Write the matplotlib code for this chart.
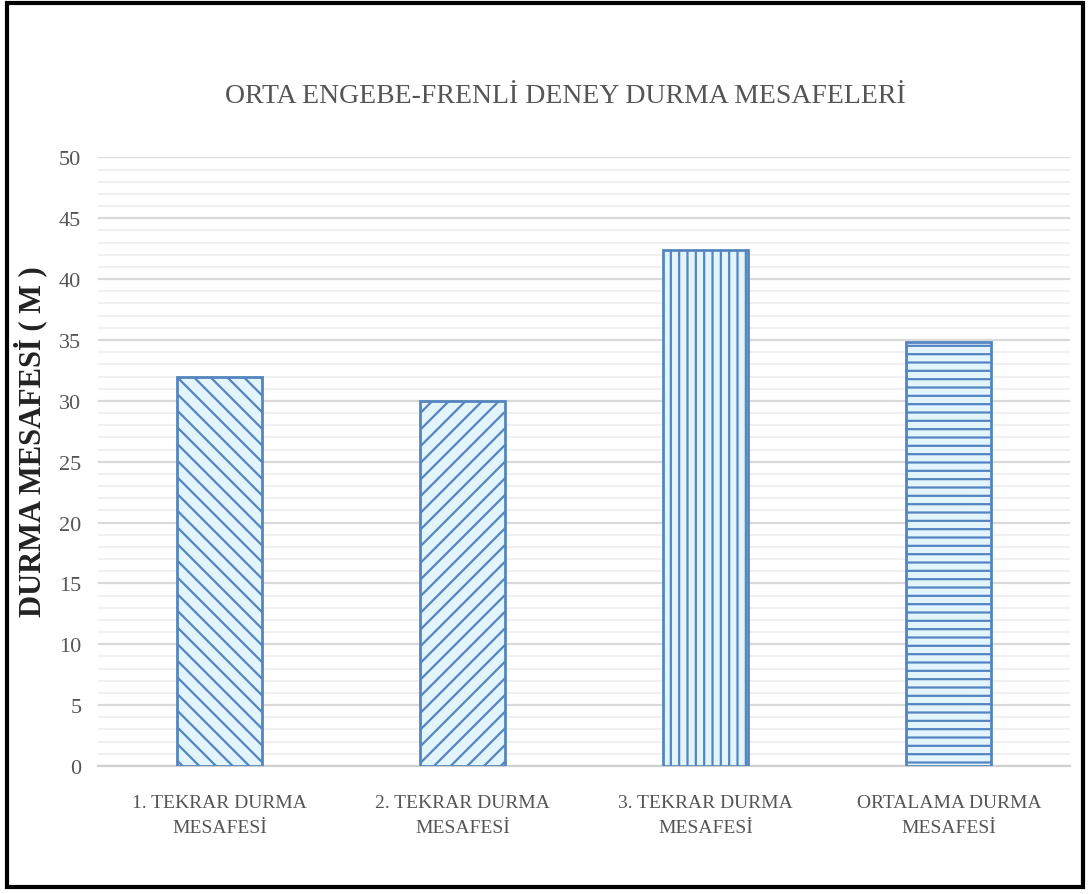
import matplotlib.pyplot as plt
from matplotlib.patches import Rectangle
from matplotlib.ticker import MultipleLocator

# veriler
categories = ['1. TEKRAR DURMA\nMESAFESİ', '2. TEKRAR DURMA\nMESAFESİ',
              '3. TEKRAR DURMA\nMESAFESİ', 'ORTALAMA DURMA\nMESAFESİ']
values = [32.0, 30.0, 42.4, 34.8]
hatches = ['\\\\', '//', '||', '--']

plt.rcParams['font.family'] = ['Liberation Serif', 'DejaVu Serif']
plt.rcParams['hatch.linewidth'] = 1.6

fig = plt.figure(figsize=(10.89, 8.95), dpi=100)
# dış çerçeve
fig.patches.append(Rectangle((7 / 1089, 7 / 895), 1076 / 1089, 884 / 895,
                             transform=fig.transFigure, fill=False,
                             edgecolor='black', linewidth=3))
ax = fig.add_axes([0.09, 0.143, 0.893, 0.68])

for i, (v, h) in enumerate(zip(values, hatches)):
    ax.bar(i, v, width=0.35, color='#e3f5fc', edgecolor='#5585c0',
           hatch=h, linewidth=2, zorder=3)

ax.set_xlim(-0.5, 3.5)
ax.set_ylim(0, 50)
ax.yaxis.set_major_locator(MultipleLocator(5))
ax.yaxis.set_minor_locator(MultipleLocator(1))
ax.grid(axis='y', which='major', color='#d9d9d9', linewidth=1.6, zorder=0)
ax.grid(axis='y', which='minor', color='#eeeeee', linewidth=1.2, zorder=0)
ax.set_axisbelow(True)

for s in ['top', 'right', 'left']:
    ax.spines[s].set_visible(False)
ax.spines['bottom'].set_color('#d0d0d0')
ax.spines['bottom'].set_linewidth(1.6)

ax.set_xticks(range(len(categories)))
ax.set_xticklabels(categories, fontsize=14, color='#555555', linespacing=1.6)
ax.tick_params(axis='x', length=0, pad=20)
ax.tick_params(axis='y', which='both', length=0, labelsize=16,
               labelcolor='#555555', pad=12)

ax.set_ylabel('DURMA MESAFESİ ( M )', fontsize=22, fontweight='bold',
              color='#222222')
ax.yaxis.set_label_coords(-0.052, 0.535)
ax.set_title('ORTA ENGEBE-FRENLİ DENEY DURMA MESAFELERİ', fontsize=20,
             color='#555555', pad=40, x=0.481)

fig.savefig('out.png', dpi=100)
